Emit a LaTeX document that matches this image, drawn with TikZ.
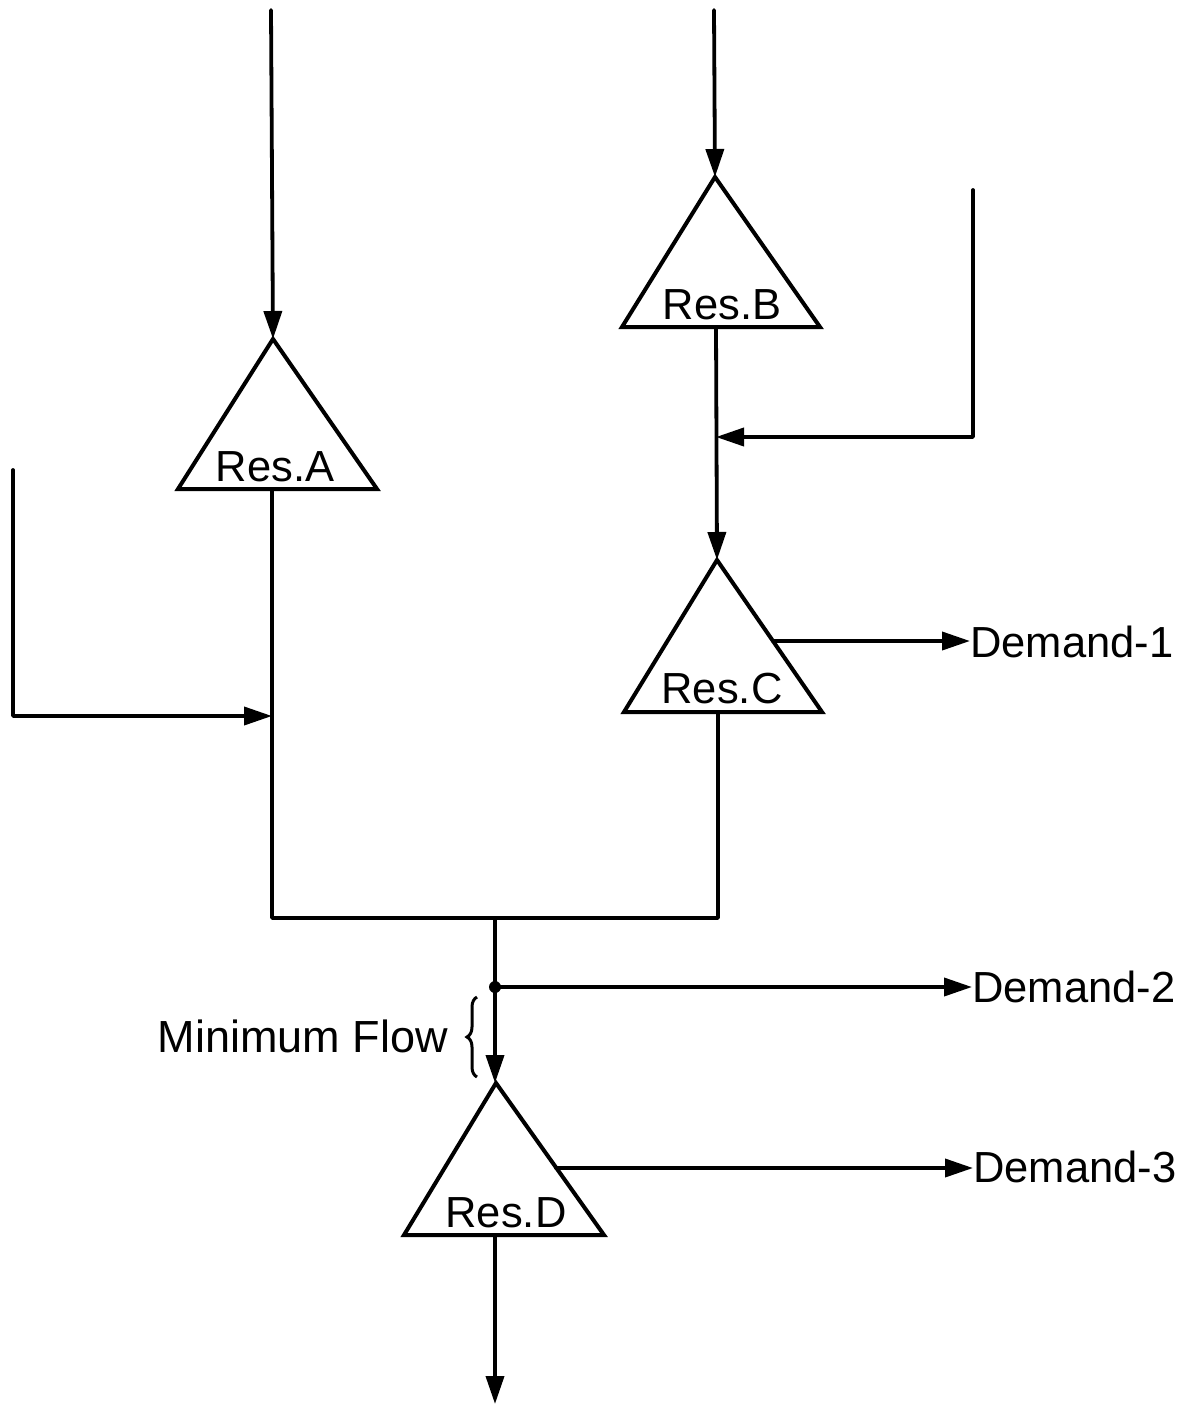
\documentclass[tikz,border=0pt]{standalone}
\usepackage{fontspec}
\setmainfont{Liberation Sans}
\usetikzlibrary{arrows.meta,decorations.pathreplacing}
\begin{document}
\begin{tikzpicture}[x=1pt,y=-1pt,
  line/.style={line width=3.8pt, line cap=round, line join=round},
  flow/.style={line, -{Triangle[length=28pt,width=18pt]}},
  resbox/.style={line width=4pt, line join=miter},
  lbl/.style={font=\fontsize{43.5}{50}\selectfont, inner sep=0pt},
]
\useasboundingbox (0,0) rectangle (1197,1406);
% reservoirs
\draw[resbox] (273,339) -- (377,489) -- (178,489) -- cycle;
\draw[resbox] (715,177) -- (820,327) -- (622,327) -- cycle;
\draw[resbox] (717,560) -- (822,712) -- (624,712) -- cycle;
\draw[resbox] (496,1083) -- (604,1235) -- (404,1235) -- cycle;
\coordinate (Atop) at (273,339); \coordinate (Abot) at (272,489);
\coordinate (Btop) at (715,177); \coordinate (Bbot) at (716,327);
\coordinate (Ctop) at (717,560); \coordinate (Cbot) at (718,712);
\coordinate (Dtop) at (495,1083); \coordinate (Dbot) at (495,1235);
\node[lbl, anchor=base] (la) at (275,481) {Res.A};
\node[lbl, anchor=base] (lb) at (722,319) {Res.B};
\node[lbl, anchor=base] (lc) at (722,703) {Res.C};
\node[lbl, anchor=base] (ld) at (506,1227) {Res.D};
% inflows
\coordinate (inA) at (271,10);
\coordinate (inB) at (714,10);
\coordinate (inL) at (13,470);
\coordinate (inR) at (973,190);
\coordinate (mA) at (272,716);
\coordinate (mB) at (716,437);
\draw[flow] (inA) -- (Atop);
\draw[flow] (inB) -- (Btop);
\draw[flow] (inL) |- (mA);
\draw[flow] (inR) |- (mB);
\draw[flow] (Bbot) -- (Ctop);
% confluence
\coordinate (J) at (495,918);
\coordinate (split) at (495,987);
\draw[line] (Abot) |- (J) -| (Cbot);
\draw[flow] (J) -- (Dtop);
\fill (split) circle (6pt);
% demands
\coordinate (d1s) at (773,641);
\coordinate (d3s) at (556,1168);
\node[lbl, anchor=base west] (D1) at (970,657) {Demand-1};
\node[lbl, anchor=base west] (D2) at (972,1002) {Demand-2};
\node[lbl, anchor=base west] (D3) at (973,1182) {Demand-3};
\draw[flow] (d1s) -- (D1.west |- d1s);
\draw[flow] (split) -- (D2.west |- split);
\draw[flow] (d3s) -- (D3.west |- d3s);
% outflow
\coordinate (out) at (495,1404);
\draw[flow] (Dbot) -- (out);
% minimum flow brace
\coordinate (br1) at (477,1077);
\coordinate (br2) at (477,997);
\draw[line width=3pt, decorate, decoration={brace, amplitude=10pt}] (br1) -- (br2);
\node[lbl, anchor=base east, font=\fontsize{45}{50}\selectfont] (mf) at (448,1052) {Minimum Flow};
\end{tikzpicture}
\end{document}
